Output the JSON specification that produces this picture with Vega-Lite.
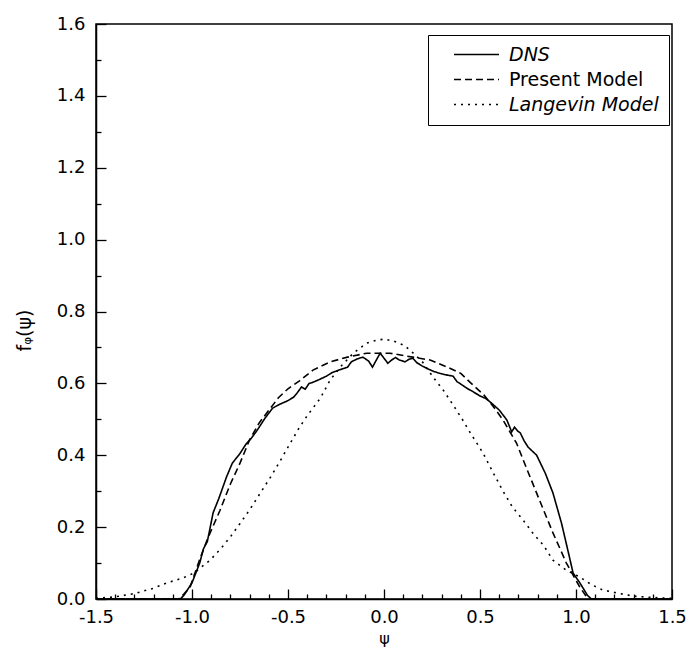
{
  "$schema": "https://vega.github.io/schema/vega-lite/v6.json",
  "width": 576,
  "height": 575,
  "autosize": {"type": "none"},
  "padding": {"left": 96, "top": 24, "right": 20, "bottom": 57},
  "background": "white",
  "config": {
    "font": "DejaVu Sans",
    "view": {"stroke": "black", "strokeWidth": 1.5},
    "axis": {
      "domainColor": "black", "domainWidth": 1.5, "tickColor": "black", "tickWidth": 1.3,
      "labelColor": "black", "labelFont": "DejaVu Sans", "labelFontSize": 18,
      "titleColor": "black", "titleFont": "DejaVu Sans", "titleFontSize": 18, "titleFontWeight": "normal",
      "grid": false
    }
  },
  "data": {"values": [
    {"series": "DNS", "psi": -1.5, "f": 0},
    {"series": "DNS", "psi": -1.06, "f": 0},
    {"series": "DNS", "psi": -1.04, "f": 0.012},
    {"series": "DNS", "psi": -1.0, "f": 0.045},
    {"series": "DNS", "psi": -0.96, "f": 0.1},
    {"series": "DNS", "psi": -0.94, "f": 0.14},
    {"series": "DNS", "psi": -0.92, "f": 0.16},
    {"series": "DNS", "psi": -0.89, "f": 0.24},
    {"series": "DNS", "psi": -0.86, "f": 0.28},
    {"series": "DNS", "psi": -0.84, "f": 0.31},
    {"series": "DNS", "psi": -0.82, "f": 0.34},
    {"series": "DNS", "psi": -0.79, "f": 0.378},
    {"series": "DNS", "psi": -0.75, "f": 0.405},
    {"series": "DNS", "psi": -0.72, "f": 0.43},
    {"series": "DNS", "psi": -0.69, "f": 0.448},
    {"series": "DNS", "psi": -0.66, "f": 0.47},
    {"series": "DNS", "psi": -0.62, "f": 0.503},
    {"series": "DNS", "psi": -0.58, "f": 0.531},
    {"series": "DNS", "psi": -0.55, "f": 0.54},
    {"series": "DNS", "psi": -0.53, "f": 0.545},
    {"series": "DNS", "psi": -0.5, "f": 0.552},
    {"series": "DNS", "psi": -0.47, "f": 0.562},
    {"series": "DNS", "psi": -0.45, "f": 0.575},
    {"series": "DNS", "psi": -0.43, "f": 0.59},
    {"series": "DNS", "psi": -0.41, "f": 0.584},
    {"series": "DNS", "psi": -0.39, "f": 0.6},
    {"series": "DNS", "psi": -0.37, "f": 0.603},
    {"series": "DNS", "psi": -0.34, "f": 0.61},
    {"series": "DNS", "psi": -0.3, "f": 0.62},
    {"series": "DNS", "psi": -0.27, "f": 0.63},
    {"series": "DNS", "psi": -0.23, "f": 0.638},
    {"series": "DNS", "psi": -0.19, "f": 0.645},
    {"series": "DNS", "psi": -0.17, "f": 0.66},
    {"series": "DNS", "psi": -0.14, "f": 0.668},
    {"series": "DNS", "psi": -0.11, "f": 0.673},
    {"series": "DNS", "psi": -0.08, "f": 0.662},
    {"series": "DNS", "psi": -0.06, "f": 0.645},
    {"series": "DNS", "psi": -0.04, "f": 0.665},
    {"series": "DNS", "psi": -0.02, "f": 0.684},
    {"series": "DNS", "psi": 0.0, "f": 0.67},
    {"series": "DNS", "psi": 0.02, "f": 0.656},
    {"series": "DNS", "psi": 0.04, "f": 0.665},
    {"series": "DNS", "psi": 0.06, "f": 0.672},
    {"series": "DNS", "psi": 0.08, "f": 0.665},
    {"series": "DNS", "psi": 0.11, "f": 0.66},
    {"series": "DNS", "psi": 0.13, "f": 0.667},
    {"series": "DNS", "psi": 0.15, "f": 0.67},
    {"series": "DNS", "psi": 0.17, "f": 0.658},
    {"series": "DNS", "psi": 0.2, "f": 0.648},
    {"series": "DNS", "psi": 0.23, "f": 0.64},
    {"series": "DNS", "psi": 0.26, "f": 0.633},
    {"series": "DNS", "psi": 0.29, "f": 0.628},
    {"series": "DNS", "psi": 0.32, "f": 0.624},
    {"series": "DNS", "psi": 0.36, "f": 0.62},
    {"series": "DNS", "psi": 0.38, "f": 0.605},
    {"series": "DNS", "psi": 0.4, "f": 0.598},
    {"series": "DNS", "psi": 0.43, "f": 0.587},
    {"series": "DNS", "psi": 0.46, "f": 0.578},
    {"series": "DNS", "psi": 0.5, "f": 0.565},
    {"series": "DNS", "psi": 0.53, "f": 0.558},
    {"series": "DNS", "psi": 0.56, "f": 0.545},
    {"series": "DNS", "psi": 0.6, "f": 0.526},
    {"series": "DNS", "psi": 0.62, "f": 0.512},
    {"series": "DNS", "psi": 0.64, "f": 0.498},
    {"series": "DNS", "psi": 0.665, "f": 0.465},
    {"series": "DNS", "psi": 0.68, "f": 0.478},
    {"series": "DNS", "psi": 0.695, "f": 0.468},
    {"series": "DNS", "psi": 0.71, "f": 0.462},
    {"series": "DNS", "psi": 0.73, "f": 0.44},
    {"series": "DNS", "psi": 0.75, "f": 0.423},
    {"series": "DNS", "psi": 0.795, "f": 0.4},
    {"series": "DNS", "psi": 0.84, "f": 0.35},
    {"series": "DNS", "psi": 0.88, "f": 0.295},
    {"series": "DNS", "psi": 0.925, "f": 0.21},
    {"series": "DNS", "psi": 0.96, "f": 0.13},
    {"series": "DNS", "psi": 0.985, "f": 0.072},
    {"series": "DNS", "psi": 1.02, "f": 0.045},
    {"series": "DNS", "psi": 1.06, "f": 0.01},
    {"series": "DNS", "psi": 1.08, "f": 0},
    {"series": "DNS", "psi": 1.5, "f": 0},

    {"series": "Present Model", "psi": -1.5, "f": 0},
    {"series": "Present Model", "psi": -1.07, "f": 0},
    {"series": "Present Model", "psi": -1.04, "f": 0.015},
    {"series": "Present Model", "psi": -1.01, "f": 0.033},
    {"series": "Present Model", "psi": -0.96, "f": 0.11},
    {"series": "Present Model", "psi": -0.917, "f": 0.17},
    {"series": "Present Model", "psi": -0.854, "f": 0.247},
    {"series": "Present Model", "psi": -0.8, "f": 0.32},
    {"series": "Present Model", "psi": -0.75, "f": 0.378},
    {"series": "Present Model", "psi": -0.7, "f": 0.443},
    {"series": "Present Model", "psi": -0.65, "f": 0.49},
    {"series": "Present Model", "psi": -0.6, "f": 0.525},
    {"series": "Present Model", "psi": -0.55, "f": 0.56},
    {"series": "Present Model", "psi": -0.5, "f": 0.585},
    {"series": "Present Model", "psi": -0.44, "f": 0.607},
    {"series": "Present Model", "psi": -0.37, "f": 0.637},
    {"series": "Present Model", "psi": -0.28, "f": 0.66},
    {"series": "Present Model", "psi": -0.19, "f": 0.673},
    {"series": "Present Model", "psi": -0.09, "f": 0.684},
    {"series": "Present Model", "psi": 0.03, "f": 0.684},
    {"series": "Present Model", "psi": 0.15, "f": 0.673},
    {"series": "Present Model", "psi": 0.24, "f": 0.665},
    {"series": "Present Model", "psi": 0.33, "f": 0.645},
    {"series": "Present Model", "psi": 0.4, "f": 0.628},
    {"series": "Present Model", "psi": 0.45, "f": 0.602},
    {"series": "Present Model", "psi": 0.52, "f": 0.568},
    {"series": "Present Model", "psi": 0.57, "f": 0.535},
    {"series": "Present Model", "psi": 0.62, "f": 0.498},
    {"series": "Present Model", "psi": 0.69, "f": 0.434},
    {"series": "Present Model", "psi": 0.74, "f": 0.367},
    {"series": "Present Model", "psi": 0.81, "f": 0.275},
    {"series": "Present Model", "psi": 0.88, "f": 0.184},
    {"series": "Present Model", "psi": 0.95, "f": 0.1},
    {"series": "Present Model", "psi": 1.02, "f": 0.033},
    {"series": "Present Model", "psi": 1.05, "f": 0.01},
    {"series": "Present Model", "psi": 1.07, "f": 0},
    {"series": "Present Model", "psi": 1.5, "f": 0},

    {"series": "Langevin Model", "psi": -1.5, "f": 0.002},
    {"series": "Langevin Model", "psi": -1.4, "f": 0.006},
    {"series": "Langevin Model", "psi": -1.3, "f": 0.015},
    {"series": "Langevin Model", "psi": -1.2, "f": 0.03},
    {"series": "Langevin Model", "psi": -1.13, "f": 0.045},
    {"series": "Langevin Model", "psi": -1.05, "f": 0.058},
    {"series": "Langevin Model", "psi": -0.99, "f": 0.072},
    {"series": "Langevin Model", "psi": -0.906, "f": 0.108},
    {"series": "Langevin Model", "psi": -0.85, "f": 0.14},
    {"series": "Langevin Model", "psi": -0.8, "f": 0.173},
    {"series": "Langevin Model", "psi": -0.75, "f": 0.21},
    {"series": "Langevin Model", "psi": -0.7, "f": 0.248},
    {"series": "Langevin Model", "psi": -0.65, "f": 0.29},
    {"series": "Langevin Model", "psi": -0.59, "f": 0.34},
    {"series": "Langevin Model", "psi": -0.54, "f": 0.385},
    {"series": "Langevin Model", "psi": -0.49, "f": 0.432},
    {"series": "Langevin Model", "psi": -0.44, "f": 0.478},
    {"series": "Langevin Model", "psi": -0.4, "f": 0.51},
    {"series": "Langevin Model", "psi": -0.33, "f": 0.56},
    {"series": "Langevin Model", "psi": -0.28, "f": 0.61},
    {"series": "Langevin Model", "psi": -0.22, "f": 0.65},
    {"series": "Langevin Model", "psi": -0.16, "f": 0.684},
    {"series": "Langevin Model", "psi": -0.09, "f": 0.712},
    {"series": "Langevin Model", "psi": -0.04, "f": 0.72},
    {"series": "Langevin Model", "psi": 0.0, "f": 0.723},
    {"series": "Langevin Model", "psi": 0.05, "f": 0.718},
    {"series": "Langevin Model", "psi": 0.1, "f": 0.707},
    {"series": "Langevin Model", "psi": 0.135, "f": 0.693},
    {"series": "Langevin Model", "psi": 0.2, "f": 0.66},
    {"series": "Langevin Model", "psi": 0.255, "f": 0.618},
    {"series": "Langevin Model", "psi": 0.31, "f": 0.58},
    {"series": "Langevin Model", "psi": 0.36, "f": 0.54},
    {"series": "Langevin Model", "psi": 0.41, "f": 0.498},
    {"series": "Langevin Model", "psi": 0.45, "f": 0.462},
    {"series": "Langevin Model", "psi": 0.516, "f": 0.406},
    {"series": "Langevin Model", "psi": 0.536, "f": 0.385},
    {"series": "Langevin Model", "psi": 0.58, "f": 0.34},
    {"series": "Langevin Model", "psi": 0.62, "f": 0.3},
    {"series": "Langevin Model", "psi": 0.67, "f": 0.255},
    {"series": "Langevin Model", "psi": 0.724, "f": 0.22},
    {"series": "Langevin Model", "psi": 0.78, "f": 0.18},
    {"series": "Langevin Model", "psi": 0.83, "f": 0.15},
    {"series": "Langevin Model", "psi": 0.88, "f": 0.108},
    {"series": "Langevin Model", "psi": 0.95, "f": 0.08},
    {"series": "Langevin Model", "psi": 1.02, "f": 0.061},
    {"series": "Langevin Model", "psi": 1.08, "f": 0.04},
    {"series": "Langevin Model", "psi": 1.14, "f": 0.025},
    {"series": "Langevin Model", "psi": 1.21, "f": 0.017},
    {"series": "Langevin Model", "psi": 1.3, "f": 0.008},
    {"series": "Langevin Model", "psi": 1.4, "f": 0.004},
    {"series": "Langevin Model", "psi": 1.5, "f": 0.002}
  ]},
  "mark": {"type": "line", "color": "black", "strokeWidth": 1.6, "clip": true},
  "encoding": {
    "x": {
      "field": "psi", "type": "quantitative",
      "scale": {"domain": [-1.5, 1.5], "nice": false, "zero": false},
      "axis": {
        "title": "ψ",
        "values": [-1.5, -1.4, -1.3, -1.2, -1.1, -1.0, -0.9, -0.8, -0.7, -0.6, -0.5, -0.4, -0.3, -0.2, -0.1, 0, 0.1, 0.2, 0.3, 0.4, 0.5, 0.6, 0.7, 0.8, 0.9, 1.0, 1.1, 1.2, 1.3, 1.4, 1.5],
        "labelExpr": "abs(datum.value*2 - round(datum.value*2)) < 0.001 ? replace(format(datum.value, '.1f'), '−', '-') : ''",
        "tickSize": {"condition": {"test": "abs(datum.value*2 - round(datum.value*2)) < 0.001", "value": -10}, "value": -5},
        "labelPadding": 19,
        "labelFlush": false,
        "labelOverlap": false,
        "titleFontSize": 16,
        "titleX": 288,
        "titleY": 39,
        "titleBaseline": "middle"
      }
    },
    "y": {
      "field": "f", "type": "quantitative",
      "scale": {"domain": [0, 1.6], "nice": false},
      "axis": {
        "title": "fᵩ(ψ)",
        "values": [0, 0.1, 0.2, 0.3, 0.4, 0.5, 0.6, 0.7, 0.8, 0.9, 1.0, 1.1, 1.2, 1.3, 1.4, 1.5, 1.6],
        "labelExpr": "abs(datum.value*5 - round(datum.value*5)) < 0.001 ? format(datum.value, '.1f') : ''",
        "tickSize": {"condition": {"test": "abs(datum.value*5 - round(datum.value*5)) < 0.001", "value": -10}, "value": -5},
        "labelPadding": 21,
        "labelFlush": false,
        "labelOverlap": false,
        "titleFontSize": 19,
        "titleX": -72,
        "titleY": 306,
        "titleBaseline": "middle"
      }
    },
    "strokeDash": {
      "field": "series", "type": "nominal",
      "scale": {"domain": ["DNS", "Present Model", "Langevin Model"], "range": [[1, 0], [7, 4], [2, 5]]},
      "legend": {
        "title": null,
        "orient": "none",
        "legendX": 332,
        "legendY": 11,
        "strokeColor": "black",
        "fillColor": "white",
        "padding": 10,
        "symbolType": "M-3,0L3,0",
        "symbolSize": 225,
        "symbolStrokeWidth": 1.3,
        "symbolStrokeColor": "black",
        "symbolFillColor": "transparent",
        "symbolOffset": 29,
        "labelFont": "DejaVu Sans",
        "labelFontSize": 19,
        "labelColor": "black",
        "labelOffset": 23,
        "rowPadding": 5,
        "labelLimit": 300,
        "encode": {
          "labels": {"update": {"fontStyle": {"signal": "datum.label === 'Present Model' ? 'normal' : 'italic'"}}}
        }
      }
    }
  }
}
